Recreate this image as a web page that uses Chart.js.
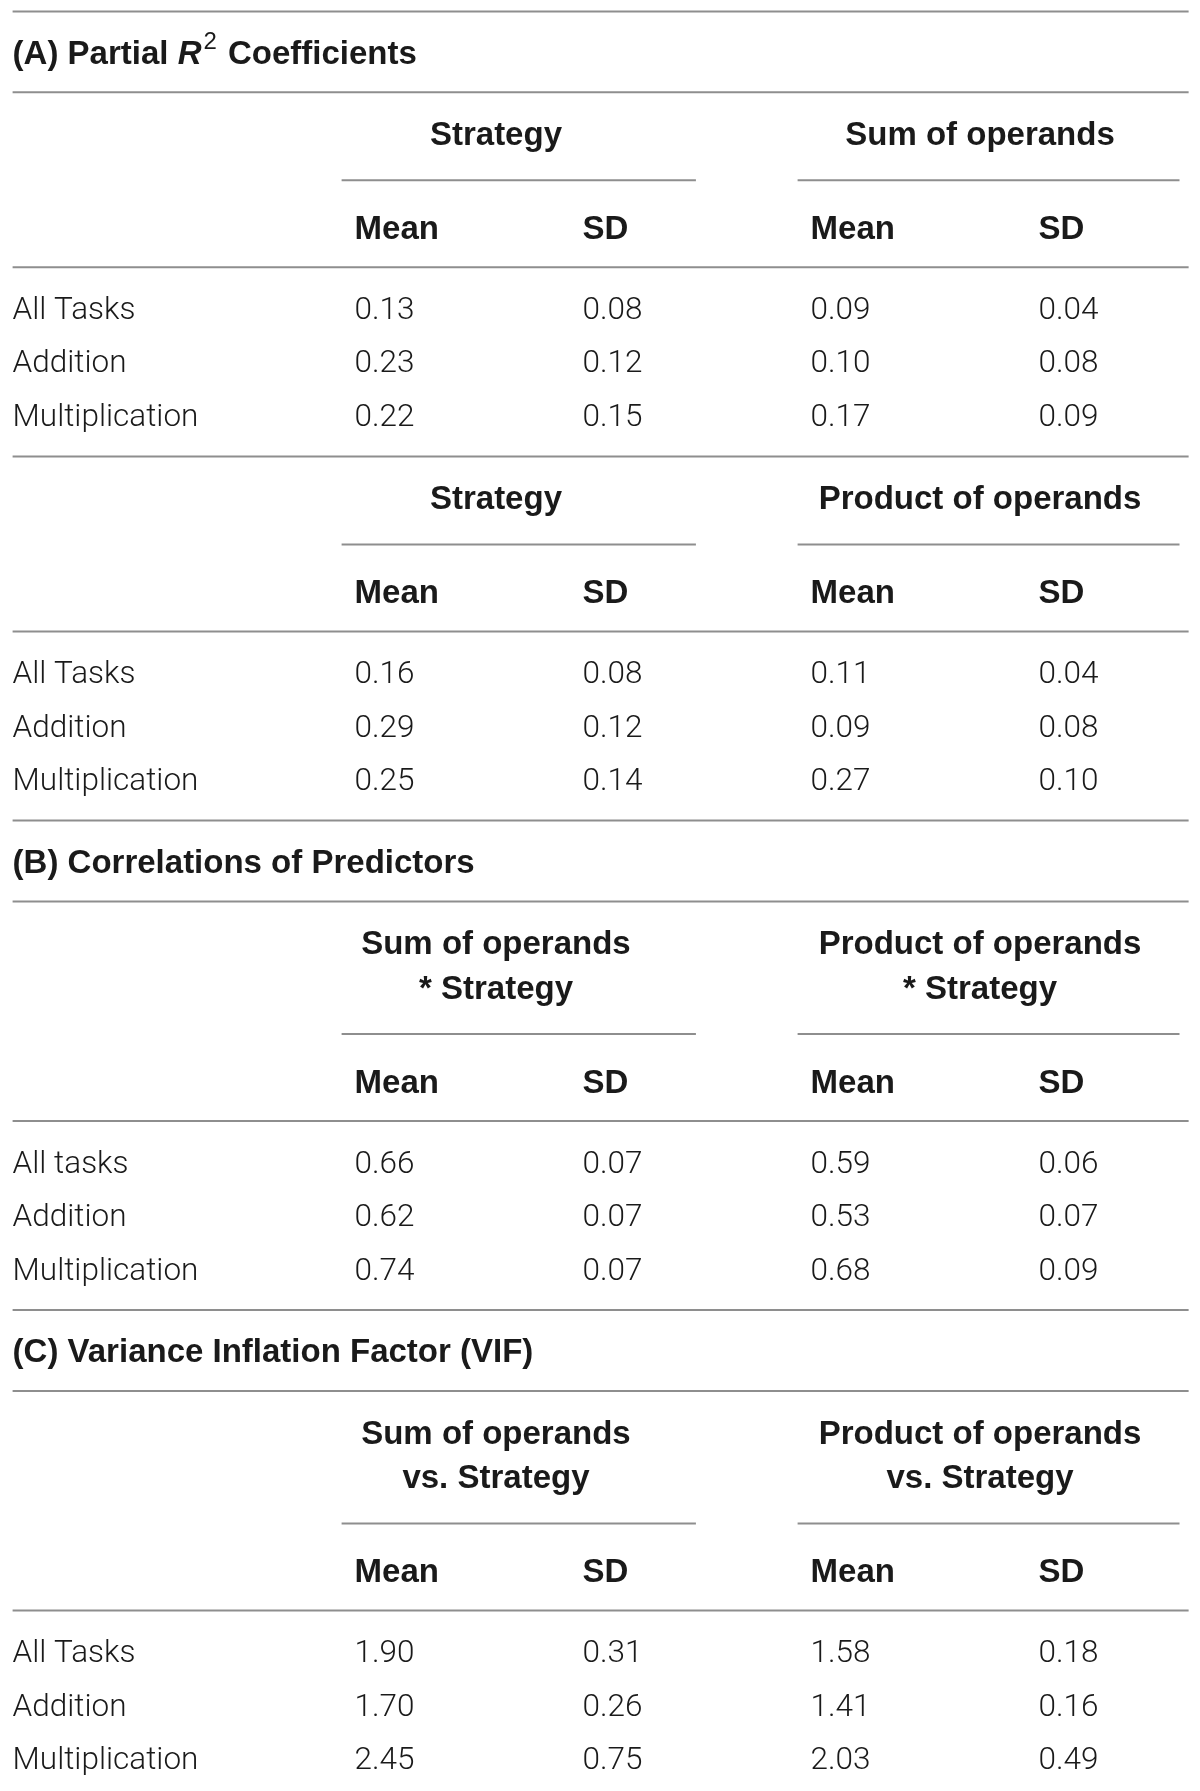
<!DOCTYPE html>
<html>
<head>
<meta charset="utf-8">
<script src="https://cdn.jsdelivr.net/npm/chart.js@4.4.1/dist/chart.umd.min.js"></script>
<style>
  html, body { margin: 0; padding: 0; background: #ffffff; }
  #wrap { width: 1200px; height: 1791px; }
</style>
</head>
<body>
<div id="wrap"><canvas id="tabla" width="1200" height="1791"></canvas></div>
<script>
// ─── Datos de la tabla ──────────────────────────────────────────────
const rowLabels   = ['All Tasks', 'Addition', 'Multiplication'];
const rowLabelsB  = ['All tasks', 'Addition', 'Multiplication'];
const colLabels   = ['Mean', 'SD', 'Mean', 'SD'];

const sectionTitles = ['(A) Partial ', '(B) Correlations of Predictors', '(C) Variance Inflation Factor (VIF)'];

const headersA1 = [['Strategy'], ['Sum of operands']];
const headersA2 = [['Strategy'], ['Product of operands']];
const headersB  = [['Sum of operands', '* Strategy'], ['Product of operands', '* Strategy']];
const headersC  = [['Sum of operands', 'vs. Strategy'], ['Product of operands', 'vs. Strategy']];

// (A) Partial R² — Strategy / Sum of operands
const a1StratMean = [0.13, 0.23, 0.22];
const a1StratSD   = [0.08, 0.12, 0.15];
const a1SumMean   = [0.09, 0.10, 0.17];
const a1SumSD     = [0.04, 0.08, 0.09];
// (A) Partial R² — Strategy / Product of operands
const a2StratMean = [0.16, 0.29, 0.25];
const a2StratSD   = [0.08, 0.12, 0.14];
const a2ProdMean  = [0.11, 0.09, 0.27];
const a2ProdSD    = [0.04, 0.08, 0.10];
// (B) Correlations of predictors
const bSumMean    = [0.66, 0.62, 0.74];
const bSumSD      = [0.07, 0.07, 0.07];
const bProdMean   = [0.59, 0.53, 0.68];
const bProdSD     = [0.06, 0.07, 0.09];
// (C) VIF
const cSumMean    = [1.90, 1.70, 2.45];
const cSumSD      = [0.31, 0.26, 0.75];
const cProdMean   = [1.58, 1.41, 2.03];
const cProdSD     = [0.18, 0.16, 0.49];

// ─── Estilo y maquetación ───────────────────────────────────────────
const LIGHT  = '300 31.5px Roboto, "Liberation Sans", sans-serif';
const BOLD   = 'bold 33px "Liberation Sans", Arial, sans-serif';
const INK    = '#1a1a1a';
const RULE   = '#8e8e8e';
const TEXT_DY = 2.8;   // ajuste vertical del texto respecto a su fila
const PITCH   = 53.6;  // separación entre filas de datos

// columnas (unidades de columna; 1 unidad = 228px)
const COL = { label: 0, m1: 1.5, s1: 2.5, m2: 3.5, s2: 4.5, h1: 2.12, h2: 4.243,
              lineL: 0, lineR: 5.158, sub1L: 1.443, sub1R: 2.997, sub2L: 3.443, sub2R: 5.118 };

const rules = [];     // líneas horizontales
const cells = [];     // textos

function addRule(y, x0, x1) { rules.push({ y, x0, x1 }); }
function addCell(x, y, text, font, align, rich) { cells.push({ x, y: y + TEXT_DY, text, font, align, rich }); }

// Construye un bloque de la tabla a partir de y0 (línea superior)
function bloque(y0, title, headers, labels, cols) {
    let y = y0;
    if (title) {
        addCell(COL.label, y + 40.5, title.text, BOLD, 'left', title.rich);
        y += 80.8;
        addRule(y, COL.lineL, COL.lineR);
    }
    // encabezados de grupo
    headers.forEach((h, k) => {
        h.forEach((line, j) => addCell(k === 0 ? COL.h1 : COL.h2, y + 41 + j * 44.5, line, BOLD, 'center'));
    });
    y += 41 + (headers[0].length - 1) * 44.5 + 47;
    addRule(y, COL.sub1L, COL.sub1R);
    addRule(y, COL.sub2L, COL.sub2R);
    y += 47;
    [COL.m1, COL.s1, COL.m2, COL.s2].forEach((cx, k) => addCell(cx, y, colLabels[k], BOLD, 'left'));
    y += 40;
    addRule(y, COL.lineL, COL.lineR);
    y += 41;
    labels.forEach((lab, i) => {
        const yy = y + i * PITCH;
        addCell(COL.label, yy, lab, LIGHT, 'left');
        [COL.m1, COL.s1, COL.m2, COL.s2].forEach((cx, k) => addCell(cx, yy, cols[k][i].toFixed(2), LIGHT, 'left'));
    });
    y += (labels.length - 1) * PITCH + 41;
    addRule(y, COL.lineL, COL.lineR);
    return y;
}

let cursor = 11.4;
addRule(cursor, COL.lineL, COL.lineR);
cursor = bloque(cursor, { text: sectionTitles[0], rich: true }, headersA1, rowLabels,
                [a1StratMean, a1StratSD, a1SumMean, a1SumSD]);
cursor = bloque(cursor, null, headersA2, rowLabels,
                [a2StratMean, a2StratSD, a2ProdMean, a2ProdSD]);
cursor = bloque(cursor, { text: sectionTitles[1] }, headersB, rowLabelsB,
                [bSumMean, bSumSD, bProdMean, bProdSD]);
cursor = bloque(cursor, { text: sectionTitles[2] }, headersC, rowLabels,
                [cSumMean, cSumSD, cProdMean, cProdSD]);

// ─── Plugin: dibuja los textos en la posición de cada punto ─────────
const textoCeldas = {
    id: 'textoCeldas',
    afterDatasetsDraw(chart) {
        const ctx = chart.ctx;
        chart.data.datasets.forEach((ds, di) => {
            if (!ds.cells) return;
            const meta = chart.getDatasetMeta(di);
            meta.data.forEach((pt, i) => {
                const c = ds.cells[i];
                ctx.save();
                ctx.fillStyle = INK;
                ctx.textBaseline = 'middle';
                ctx.font = c.font;
                ctx.textAlign = c.align;
                if (c.rich) {
                    // "(A) Partial R² Coefficients"
                    let x = pt.x;
                    ctx.textAlign = 'left';
                    ctx.fillText(c.text, x, pt.y);
                    x += ctx.measureText(c.text).width;
                    ctx.font = 'italic bold 33px "Liberation Sans", Arial, sans-serif';
                    ctx.fillText('R', x, pt.y);
                    x += ctx.measureText('R').width + 2;
                    ctx.font = '24px "Liberation Sans", Arial, sans-serif';
                    ctx.fillText('2', x, pt.y - 12);
                    x += ctx.measureText('2').width + 2;
                    ctx.font = BOLD;
                    ctx.fillText(' Coefficients', x, pt.y);
                } else {
                    ctx.fillText(c.text, pt.x, pt.y);
                }
                ctx.restore();
            });
        });
    }
};

const datasets = rules.map(r => ({
    type: 'line',
    data: [{ x: r.x0, y: r.y }, { x: r.x1, y: r.y }],
    borderColor: RULE,
    borderWidth: 2,
    pointRadius: 0,
    clip: false
}));
datasets.push({
    type: 'scatter',
    data: cells.map(c => ({ x: c.x, y: c.y })),
    cells: cells,
    pointRadius: 0,
    clip: false
});

new Chart(document.getElementById('tabla'), {
    type: 'scatter',
    data: { datasets },
    options: {
        responsive: false,
        animation: false,
        devicePixelRatio: 1,
        layout: { padding: 0 },
        plugins: { legend: { display: false }, tooltip: { enabled: false } },
        scales: {
            x: { type: 'linear', display: false, min: -12.6 / 228, max: (1200 - 12.6) / 228 },
            y: { type: 'linear', display: false, reverse: true, min: 0, max: 1791 }
        }
    },
    plugins: [textoCeldas]
});
</script>
</body>
</html>
